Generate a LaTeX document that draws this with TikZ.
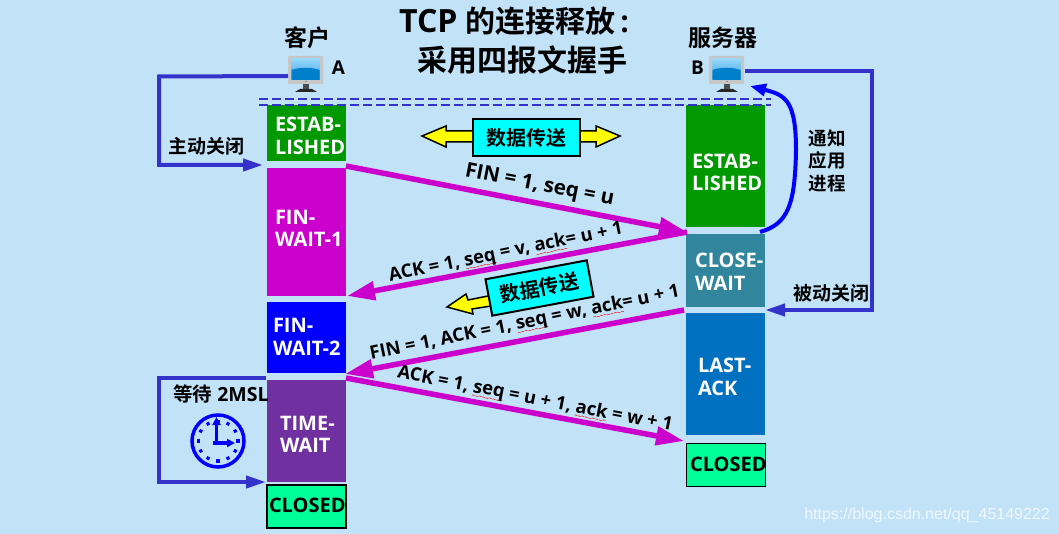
\documentclass[tikz,border=0pt]{standalone}
\usepackage{fontspec}
\usetikzlibrary{arrows.meta,calc}
\setmainfont{Open Sans}
\newfontfamily\cjk{Noto Sans CJK SC}[BoldFont={Noto Sans CJK SC Bold}]
\newfontfamily\wmfont{Liberation Sans}
\definecolor{bgc}{RGB}{194,226,247}
\definecolor{lineblue}{RGB}{51,51,204}
\definecolor{gr}{RGB}{0,153,0}
\definecolor{mag}{RGB}{204,0,204}
\definecolor{pur}{RGB}{112,48,160}
\definecolor{teal2}{RGB}{49,133,156}
\definecolor{blu2}{RGB}{0,112,192}
\definecolor{mint}{RGB}{0,255,153}
\definecolor{cyan2}{RGB}{0,255,255}
\definecolor{yel2}{RGB}{255,255,0}
\definecolor{pureblue}{RGB}{0,0,255}
\definecolor{scrtop}{RGB}{150,215,250}
\definecolor{scrmid}{RGB}{60,160,230}
\definecolor{scrlow}{RGB}{0,128,204}
\newcommand\fs[1]{\fontsize{#1}{#1}\selectfont}
\newsavebox\sqbox
\newcommand\sq[1]{\sbox\sqbox{#1}\leavevmode\rlap{\textcolor{red}{\raisebox{-5.5pt}{\hbox to\wd\sqbox{\xleaders\hbox{\fontsize{6}{6}\selectfont\char`\~}\hfill}}}}\usebox\sqbox}
% x offset, raise, line 1, line 2
\newcommand\st[4]{\raisebox{#2pt}[0pt][0pt]{\makebox[79pt][l]{\hspace*{#1pt}\begin{tabular}[c]{@{}l@{}}#3\\#4\end{tabular}}}}
\newcommand\stone[3]{\raisebox{#2pt}[0pt][0pt]{\makebox[79pt][l]{\hspace*{#1pt}#3}}}
\tikzset{
  x=1pt,y=-1pt,
  stbox/.style={minimum width=79pt,inner sep=0pt,outer sep=0pt,text=white,font=\bfseries\fontsize{20}{22.5}\selectfont},
  closedbox/.style={stbox,fill=mint,draw=black,text=black},
  msg/.style={line width=5.5pt,draw=mag,-{Triangle[length=28pt,width=18pt]}},
  msgtext/.style={font=\bfseries\fs{18.4},inner sep=0pt,text=black},
  lbl/.style={font=\bfseries\fs{19},inner sep=0pt,text=black},
  conn/.style={line width=4pt,draw=lineblue,line join=miter,-{Triangle[length=20pt,width=12pt]}},
  dashrule/.style={line width=2pt,draw=lineblue,dash pattern=on 9pt off 4pt},
  databox/.style={draw=black,line width=2pt,fill=cyan2,inner sep=0pt,minimum height=37pt,font=\bfseries\fs{20}},
  yarrow/.style={fill=yel2,draw=black,line width=1.5pt,line join=miter},
  monitor/.pic={
    \fill[black!85] (-6,33) -- (6,33) -- (11,36) -- (-11,36) -- cycle;
    \fill[black!70] (-3,28) rectangle (3,33);
    \fill[rounded corners=1pt,fill=black!22] (-18,0) rectangle (17,28);
    \shade[top color=scrtop,bottom color=scrmid] (-14.5,3) rectangle (13.5,24);
    \fill[scrlow] (-14.5,14) .. controls (-6,11) and (5,11) .. (13.5,14) -- (13.5,24) -- (-14.5,24) -- cycle;
    \fill[black!45] (-1,25.5) rectangle (1,26.5);
  }
}
\begin{document}
\begin{tikzpicture}
\useasboundingbox (0,0) rectangle (1059,534);
\fill[bgc] (0,0) rectangle (1059,534);

% state boxes
\node[stbox,fill=gr,minimum height=56pt] (estabA) at (306.5,133) {\st{8}{-10.5}{ESTAB-}{LISHED}};
\node[stbox,fill=mag,minimum height=128pt] (fw1) at (306.5,232) {\st{8}{-4}{FIN-}{WAIT-1}};
\node[stbox,fill=blue,minimum height=71pt] (fw2) at (306.5,337.5) {\st{6}{-7}{FIN-}{WAIT-2}};
\node[stbox,fill=pur,minimum height=102pt] (tw) at (306.5,431) {\st{13}{-11}{TIME-}{WAIT}};
\node[closedbox,line width=2pt,minimum width=78pt,minimum height=43pt] (clA) at (306.5,506) {\stone{2}{-6}{CLOSED}};

\node[stbox,fill=gr,minimum height=122pt] (estabB) at (725.5,166) {\st{6}{-14}{ESTAB-}{LISHED}};
\node[stbox,fill=teal2,minimum height=73pt] (cw) at (725.5,270.5) {\st{9}{-9}{CLOSE-}{WAIT}};
\node[stbox,fill=blu2,minimum height=122pt] (la) at (725.5,374) {\st{12}{-10.5}{LAST-}{ACK}};
\node[closedbox,line width=1pt,minimum height=43pt] (clB) at (725.5,464.5) {\stone{4}{-7}{CLOSED}};

% dashed rules
\coordinate (dl1) at (259,99); \coordinate (dr1) at (771,99);
\coordinate (dl2) at (259,105); \coordinate (dr2) at (771,105);
\draw[dashrule] (dl1) -- (dr1);
\draw[dashrule] (dl2) -- (dr2);

% monitors
\pic at (306,56) {monitor};
\pic at (727,56) {monitor};
\coordinate (monA) at (288,76);
\coordinate (monB) at (745,71);
\coordinate (monBin) at (750,86);

% title and host labels
\node[inner sep=0pt,anchor=west,font=\bfseries\fs{30}] (t1) at (399,21) {{\fs{32}TCP} {\cjk 的连接释放}\,:};
\node[inner sep=0pt,anchor=west,font=\bfseries\fs{30}] (t2) at (417,60) {\cjk 采用四报文握手};
\node[lbl,font=\bfseries\fs{23}] (client) at (307,38) {\cjk 客户};
\node[lbl,font=\bfseries\fs{23}] (server) at (723,38) {\cjk 服务器};
\node[lbl] (hostA) at (338.5,68) {A};
\node[lbl] (hostB) at (697.5,68) {B};

% side connectors
\coordinate (aTurn1) at (159,76.5);
\coordinate (aTurn2) at (159,165);
\coordinate (aEnd) at (263,165);
\draw[conn] (monA) -- (aTurn1) -- (aTurn2) -- (aEnd);
\node[lbl] (zd) at (206,146) {\cjk 主动关闭};

\coordinate (bTurn1) at (872,71);
\coordinate (bTurn2) at (872,310);
\coordinate (bEnd) at (765,310);
\draw[conn] (monB) -- (bTurn1) -- (bTurn2) -- (bEnd);
\node[lbl] (bd) at (831,293) {\cjk 被动关闭};

\coordinate (nStart) at (760,232);
\draw[line width=4pt,draw=pureblue,-{Triangle[length=16pt,width=12pt]}] (nStart) .. controls (788,224) and (795,205) .. (796,150) .. controls (796,100) and (785,95) .. (monBin);
\node[lbl,align=center,font=\bfseries\fontsize{18.5}{22.5}\selectfont] (tz) at (827,160.5) {\cjk 通知\\\cjk 应用\\\cjk 进程};

\coordinate (wStart) at (266,378);
\coordinate (wTurn1) at (159,378);
\coordinate (wTurn2) at (159,482);
\coordinate (wEnd) at (266,482);
\draw[conn] (wStart) -- (wTurn1) -- (wTurn2) -- (wEnd);
\node[lbl,anchor=west,font=\bfseries\fs{19.5}] (wait) at (173,394) {{\cjk 等待} 2MSL};

% clock
\begin{scope}[shift={(218,441)}]
\draw[pureblue,line width=3.5pt] (0,0) circle (26pt);
\foreach \a in {0,30,...,330}{\fill[pureblue,rotate=\a] (-1.6,-21.5) rectangle (1.6,-18.3);}
\draw[pureblue,line width=3.5pt,-{Triangle[length=8pt,width=8pt]}] (-1.5,4) -- (-1.5,-24);
\draw[pureblue,line width=3.5pt,-{Triangle[length=8pt,width=8pt]}] (-5,2) -- (17,2);
\end{scope}

% messages
\coordinate (m1s) at (346,166); \coordinate (m1e) at (687,232);
\coordinate (m2s) at (687,232); \coordinate (m2e) at (347,296);
\coordinate (m3s) at (684,310); \coordinate (m3e) at (345,374);
\coordinate (m4s) at (346,378); \coordinate (m4e) at (684,441);
\draw[msg] (m1s) -- (m1e);
\draw[msg] (m2s) -- (m2e);
\draw[msg] (m3s) -- (m3e);
\draw[msg] (m4s) -- (m4e);
\node[msgtext,font=\bfseries\fs{20.5},rotate=-11] (mt1) at (539.5,186) {FIN = 1, seq = u};
\node[msgtext,rotate=11.5] (mt2) at (506,253.5) {ACK = 1, \sq{seq} = v, \sq{ack}= u + 1};
\node[msgtext,rotate=11.5] (mt3) at (525,324) {FIN = 1, ACK = 1, \sq{seq} = w, \sq{ack}= u + 1};
\node[msgtext,rotate=-11] (mt4) at (535,400) {ACK = 1, \sq{seq} = u + 1, \sq{ack} = w + 1};

% data transfer arrows
\node[databox,minimum width=107pt] (d1) at (526.5,137.5) {\cjk 数据传送};
\draw[yarrow] (d1.west |- 0,131) -- (446,131) -- (446,126) -- (422,136) -- (446,147) -- (446,142) -- (d1.west |- 0,142);
\draw[yarrow] (d1.east |- 0,131) -- (596,131) -- (596,126) -- (620,136) -- (596,147) -- (596,142) -- (d1.east |- 0,142);
\draw[yarrow] (488,296) -- (468,300) -- (466,294) -- (447,307) -- (473,314) -- (472,309) -- (491,306);
\node[databox,minimum width=103pt,rotate=10.6] (d2) at (539.5,288) {\cjk 数据传送};

\node[inner sep=0pt,anchor=east,text=white!75!bgc,font=\wmfont\fs{16}] (wm) at (1050,515) {https://blog.csdn.net/qq\_45149222};
\end{tikzpicture}
\end{document}
